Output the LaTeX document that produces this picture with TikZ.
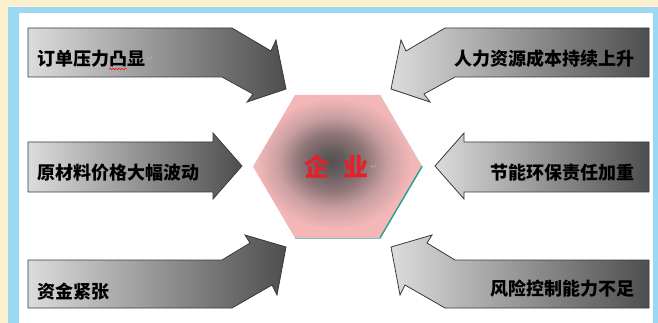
\documentclass[tikz,border=0pt]{standalone}
\usepackage{fontspec}
\usetikzlibrary{decorations.pathmorphing}
\newfontfamily\cjk{Noto Sans CJK SC}
\newfontfamily\symf{DejaVu Sans}
\definecolor{beige}{HTML}{FDF0CF}
\definecolor{frameblue}{HTML}{9AD8F4}
\definecolor{arrlight}{HTML}{DCDCDC}
\definecolor{arrdark}{HTML}{4E4E4E}
\definecolor{arredge}{HTML}{3A3A3A}
\definecolor{hc0}{HTML}{555052}
\definecolor{hc1}{HTML}{665C5D}
\definecolor{hc2}{HTML}{8F7677}
\definecolor{hc3}{HTML}{C99FA1}
\definecolor{hpink}{HTML}{F4B7B8}
\definecolor{teal}{HTML}{22A08C}
\definecolor{redtxt}{HTML}{E5202A}
\definecolor{retgray}{HTML}{A8A8A8}
\pgfdeclareradialshading{hexshade}{\pgfpoint{-2bp}{2bp}}{color(0bp)=(hc0); color(4bp)=(hc1); color(10bp)=(hc2); color(16bp)=(hc3); color(23bp)=(hpink); color(50bp)=(hpink)}
\tikzset{
  blockarrow/.style={draw=arredge, line width=0.8pt, line join=miter, left color=arrlight, right color=arrdark},
  lbl/.style={inner sep=0pt, font=\cjk\bfseries\fontsize{18}{18}\selectfont, text=black},
  retmark/.style={inner sep=0pt, font=\symf\fontsize{8}{8}\selectfont, text=retgray},
}
\begin{document}
\begin{tikzpicture}[x=1pt,y=-1pt]
\useasboundingbox (0,0) rectangle (658,323);
% background frame
\fill[beige] (0,0) rectangle (658,323);
\fill[frameblue] (8,7) rectangle (658,323);
\fill[white] (19,13) rectangle (653,323);

% left arrows
\path[blockarrow] (28,28) -- (232,28) -- (271,51) -- (276,40) -- (286,89) -- (247,102) -- (253,94) -- (222,77) -- (28,77) -- cycle;
\path[blockarrow] (28,142) -- (213,142) -- (213,133) -- (242,166) -- (213,199) -- (213,192) -- (28,192) -- cycle;
\path[blockarrow] (28,260) -- (222,260) -- (250,243) -- (245,235) -- (286,247) -- (277,295) -- (272,285) -- (232,308) -- (28,308) -- cycle;
% right arrows
\path[blockarrow] (649,28) -- (445,28) -- (406,51) -- (401,40) -- (391,89) -- (430,102) -- (424,94) -- (455,77) -- (649,77) -- cycle;
\path[blockarrow] (649,142) -- (464,142) -- (464,133) -- (435,166) -- (464,199) -- (464,192) -- (649,192) -- cycle;
\path[blockarrow] (649,260) -- (455,260) -- (427,243) -- (432,235) -- (391,247) -- (400,295) -- (405,285) -- (445,308) -- (649,308) -- cycle;

% hexagon
\coordinate (hL) at (253,166.5);
\coordinate (hTL) at (295,95);
\coordinate (hTR) at (380,95);
\coordinate (hR) at (422,166.5);
\coordinate (hBR) at (380,238);
\coordinate (hBL) at (295,238);
\path[shading=hexshade] (hL) -- (hTL) -- (hTR) -- (hR) -- (hBR) -- (hBL) -- cycle;
\draw[gray!40, line width=0.5pt] (hTR) -- (hR);
\draw[teal, line width=1.4pt, line cap=round] (hR) -- (hBR);
\draw[teal!60, line width=0.8pt] (hBR) -- (hBL);

% centre text
\node[inner sep=0pt, font=\cjk\bfseries\fontsize{25}{25}\selectfont, text=redtxt] (qiye) at (336,167) {企\hspace{14pt}业};
\node[retmark, anchor=west] (r3) at ([xshift=2pt]qiye.east) {↵};

% labels
\node[lbl, anchor=west] (t1) at (37,58.5) {订单压力凸显};
\node[retmark, anchor=west] (r1) at ([xshift=1pt]t1.east) {↵};
\draw[red, line width=0.5pt, decorate, decoration={snake, amplitude=0.8pt, segment length=3pt}] (109,69) -- (127,69);
\node[lbl, anchor=west] (t2) at (37,173) {原材料价格大幅波动};
\node[lbl, anchor=west] (t3) at (37,291.5) {资金紧张};
\node[retmark, anchor=west] (r2) at ([xshift=1pt]t3.east) {↵};
\node[lbl, anchor=east] (t4) at (635,59) {人力资源成本持续上升};
\node[lbl, anchor=east] (t5) at (635,172.5) {节能环保责任加重};
\node[lbl, anchor=east] (t6) at (635,289) {风险控制能力不足};
\end{tikzpicture}
\end{document}
